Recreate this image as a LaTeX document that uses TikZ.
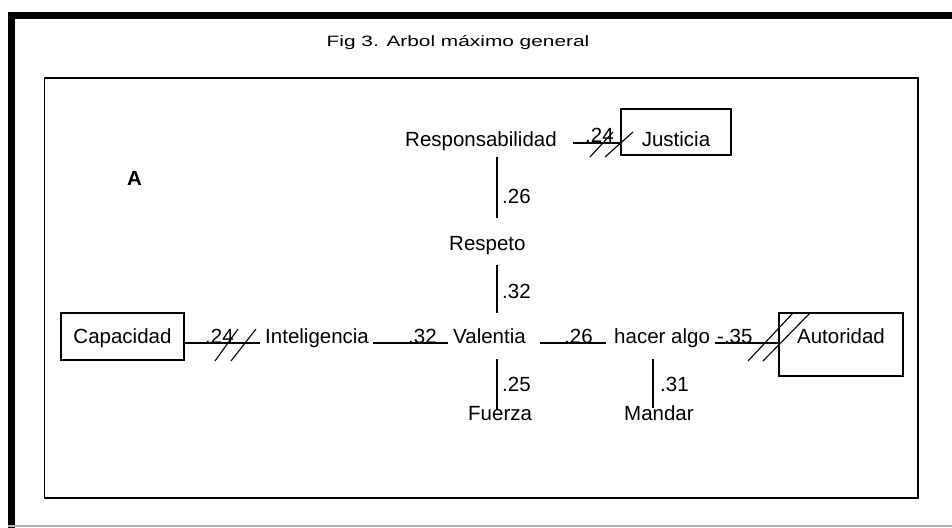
\documentclass[tikz,border=0pt]{standalone}
\usepackage{graphicx}
\usepackage{fontspec}
\setmainfont{Liberation Sans}
\begin{document}
\begin{tikzpicture}[x=1pt,y=-1pt,
  every node/.style={font=\fontsize{20.5}{24}\selectfont, inner sep=0pt},
  lbl/.style={anchor=base west},
  wt/.style={anchor=base west},
  box/.style={draw, line width=1.6pt, anchor=base, inner xsep=0pt},
  conn/.style={line width=1.3pt},
  hatch/.style={line width=1.1pt}]
\useasboundingbox (0,0) rectangle (952,527);
% frame
\draw[line width=7pt] (11.5,535) -- (11.5,15.5) -- (960,15.5);
\draw[gray!60, line width=1.5pt] (8,525.8) -- (952,525.8);
\draw[line width=1.6pt] (44.5,78) rectangle (918,498);
% title
\node[anchor=base] (title) at (458,46.7) {\fontsize{15}{18}\selectfont\scalebox{1.39}[1]{Fig 3. Arbol máximo general}};
\node[anchor=base west, font=\fontsize{20.5}{24}\selectfont\bfseries] (A) at (127,185) {A};
% boxes
\node[box, minimum width=123pt, text height=30pt, text depth=17pt] (cap) at (122.5,343) {Capacidad};
\node[box, minimum width=110pt, text height=37pt, text depth=9pt] (just) at (676,146) {Justicia};
\node[box, minimum width=124pt, text height=30pt, text depth=33pt] (aut) at (841,343) {Autoridad};
% text nodes
\node[lbl] (resp) at (405,146) {Responsabilidad};
\node[lbl] (respeto) at (449,250) {Respeto};
\node[lbl] (val) at (453,343) {Valentia};
\node[lbl] (fuer) at (468,420) {Fuerza};
\node[lbl] (intel) at (265,343) {Inteligencia};
\node[lbl] (hacer) at (614,343) {hacer algo};
\node[lbl] (mand) at (624,420) {Mandar};
\coordinate (sp) at (497,0);
\coordinate (hx) at (653,0);
% connectors
\draw[conn, shorten <=16pt] ([yshift=3pt]resp.base east) -- ([yshift=3pt]just.base west);
\draw[conn, shorten <=7pt, shorten >=18pt] (resp.south -| sp) -- (respeto.north -| sp);
\draw[conn, shorten <=11pt, shorten >=15pt] (respeto.south -| sp) -- (val.north -| sp);
\draw[conn, shorten <=16pt, shorten >=-3pt] (val.south -| sp) -- (fuer.north -| sp);
\draw[conn, shorten <=12pt, shorten >=-3pt] (hacer.south -| hx) -- (mand.north -| hx);
\draw[conn, shorten >=5pt] (cap.base east) -- (intel.base west);
\draw[conn, shorten <=4pt, shorten >=5pt] (intel.base east) -- (val.base west);
\draw[conn, shorten <=14pt, shorten >=8pt] (val.base east) -- (hacer.base west);
\draw[conn, shorten <=5pt] (hacer.base east) -- (aut.base west);
% weights
\node[wt] (w1) at (585,142) {.24};
\node[wt] (w2) at (502,203) {.26};
\node[wt] (w3) at (502,298) {.32};
\node[wt] (w4) at (205,343) {.24};
\node[wt] (w5) at (408,343) {.32};
\node[wt] (w6) at (564,343) {.26};
\node[wt] (w7) at (717,343) {-.35};
\node[wt] (w8) at (502,391) {.25};
\node[wt] (w9) at (660,391) {.31};
% hatches
\draw[hatch] (215,361) -- (238,329);
\draw[hatch] (231,361) -- (256,329);
\draw[hatch] (590,157) -- (613,132);
\draw[hatch] (605,157) -- (633,132);
\draw[hatch] (748,361) -- (793,313);
\draw[hatch] (763,361) -- (810,313);
\end{tikzpicture}
\end{document}
